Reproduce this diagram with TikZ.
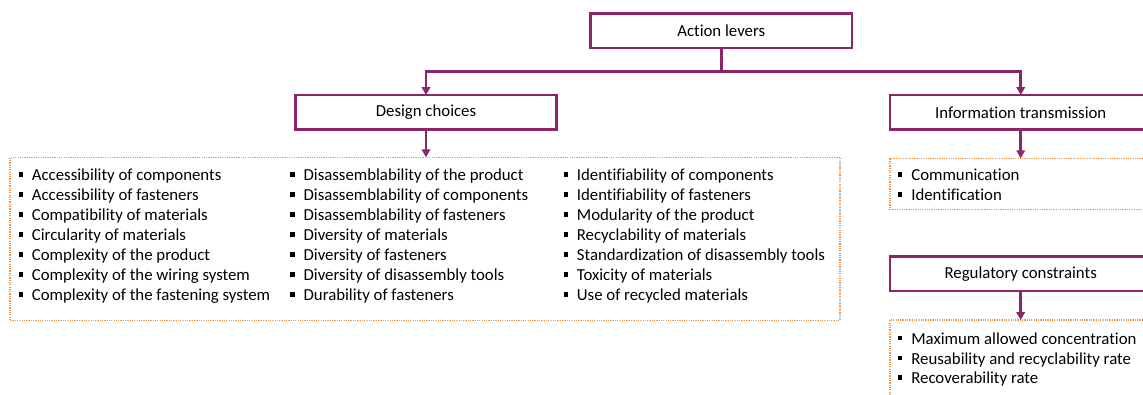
\documentclass[tikz,border=0pt]{standalone}
\usepackage{fontspec}
\setmainfont[Ligatures=NoCommon]{Carlito}
\usetikzlibrary{arrows.meta}
\definecolor{plum}{RGB}{140,37,105}
\definecolor{dotorange}{RGB}{247,150,70}
\newcommand{\bulsq}{\makebox[13.4pt][l]{\rule[4pt]{4.4pt}{4.4pt}}}
\begin{document}
\begin{tikzpicture}[x=1pt,y=-1pt,
  lever/.style={draw=plum, line width=2.6pt, minimum width=261.5pt, minimum height=34.5pt, inner sep=0pt, outer sep=0pt, font=\fontsize{16.8}{19}\selectfont},
  listbox/.style={draw=dotorange, line width=1.3pt, dash pattern=on 1.2pt off 1.1pt, inner sep=0pt, outer sep=0pt, anchor=north west},
  item/.style={anchor=base west, inner sep=0pt, font=\fontsize{16.8}{19}\selectfont},
  conn/.style={draw=plum, line width=2.6pt, -{Triangle[length=8pt,width=8.5pt]}},
  plain/.style={draw=plum, line width=2.6pt}]
\clip (0,0) rectangle (1143,394);
\fill[white] (0,0) rectangle (1143,394);

% lever boxes
\node[lever] (al) at (721.25,30.6) {Action levers};
\node[lever] (dc) at (426,112.3) {Design choices};
\node[lever] (it) at (1020.7,112.3) {Information transmission};
\node[lever] (rc) at (1020.7,273.7) {Regulatory constraints};

% list boxes
\node[listbox, minimum width=830pt, minimum height=163.4pt] (dcl) at (10,157.3) {};
\node[listbox, minimum width=270pt, minimum height=51pt] (itl) at (890,158.3) {};
\node[listbox, minimum width=270pt, minimum height=90pt] (rcl) at (890,320) {};

% connectors
\coordinate (jn) at (721.25,71.3);
\draw[plain] (al.south) -- (jn);
\draw[conn] (jn) -| (dc.north);
\draw[conn] (jn) -| (it.north);
\draw[conn] (dc.south) -- (dcl.north -| dc.south);
\draw[conn] (it.south) -- (itl.north -| it.south);
\draw[conn] (rc.south) -- (rcl.north -| rc.south);

% design choice items
\foreach \t [count=\i] in {Accessibility of components, Accessibility of fasteners, Compatibility of materials, Circularity of materials, Complexity of the product, Complexity of the wiring system, Complexity of the fastening system}
  \node[item] (da\i) at (18.3,{160.7+20*\i}) {\bulsq\t};
\foreach \t [count=\i] in {Disassemblability of the product, Disassemblability of components, Disassemblability of fasteners, Diversity of materials, Diversity of fasteners, Diversity of disassembly tools, Durability of fasteners}
  \node[item] (db\i) at (290,{160.7+20*\i}) {\bulsq\t};
\foreach \t [count=\i] in {Identifiability of components, Identifiability of fasteners, Modularity of the product, Recyclability of materials, Standardization of disassembly tools, Toxicity of materials, Use of recycled materials}
  \node[item] (dd\i) at (563.3,{160.7+20*\i}) {\bulsq\t};

% information items
\foreach \t [count=\i] in {Communication, Identification}
  \node[item] (ia\i) at (897.7,{160.7+20*\i}) {\bulsq\t};

% regulatory items
\foreach \t [count=\i] in {Maximum allowed concentration, Reusability and recyclability rate, Recoverability rate}
  \node[item] (ra\i) at (897.7,{324.6+19.7*\i}) {\bulsq\t};
\end{tikzpicture}
\end{document}
